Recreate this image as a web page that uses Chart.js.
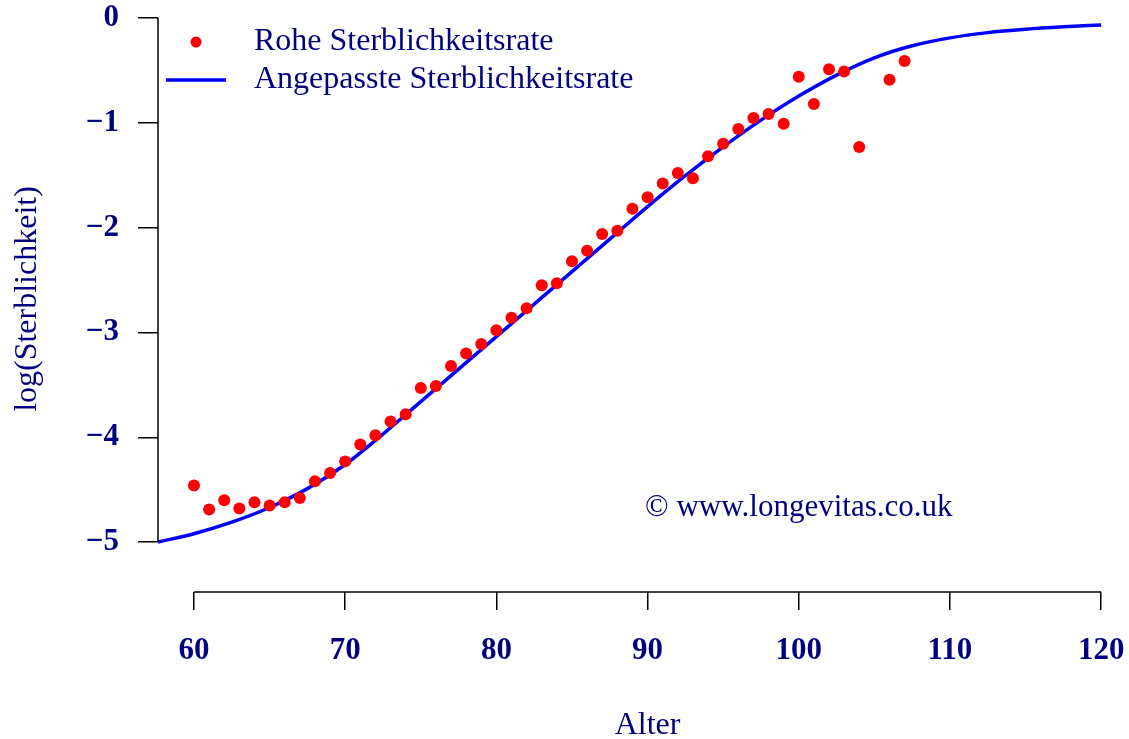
<!DOCTYPE html>
<html lang="de">
<head>
    <meta charset="UTF-8">
    <title>Sterblichkeit</title>
    <style>
        html, body {
            margin: 0;
            padding: 0;
            background: white;
            overflow: hidden;
        }
        .wrap {
            width: 1143px;
            height: 739px;
        }
    </style>
    <script src="https://cdn.jsdelivr.net/npm/chart.js"></script>
</head>
<body>
    <div class="wrap">
        <canvas id="chart" width="1143" height="739"></canvas>
    </div>

    <script>
        // raw (observed) log mortality by age
        const rawAges = [60, 61, 62, 63, 64, 65, 66, 67, 68, 69,
                         70, 71, 72, 73, 74, 75, 76, 77, 78, 79,
                         80, 81, 82, 83, 84, 85, 86, 87, 88, 89,
                         90, 91, 92, 93, 94, 95, 96, 97, 98, 99,
                         100, 101, 102, 103, 104, 106, 107];
        const rawRates = [-4.46, -4.69, -4.60, -4.68, -4.62, -4.65, -4.62, -4.58, -4.42, -4.34,
                          -4.23, -4.07, -3.98, -3.85, -3.78, -3.53, -3.51, -3.32, -3.20, -3.11,
                          -2.98, -2.86, -2.77, -2.55, -2.53, -2.32, -2.22, -2.06, -2.03, -1.82,
                          -1.71, -1.58, -1.48, -1.53, -1.32, -1.20, -1.06, -0.955, -0.917, -1.01,
                          -0.56, -0.82, -0.49, -0.51, -1.23, -0.59, -0.41];

        // fitted curve
        const fitAges = [57.62, 60, 62.5, 65, 67.5, 70, 72.5, 75, 77.5, 80,
                         82.5, 85, 87.5, 90, 92.5, 95, 97.5, 100, 102.5, 105,
                         107.5, 110, 112.5, 115, 117.5, 120];
        const fitRates = [-5.00, -4.92, -4.81, -4.67, -4.49, -4.26, -3.97, -3.66, -3.35, -3.04,
                          -2.73, -2.42, -2.11, -1.80, -1.505, -1.23, -0.975, -0.745, -0.545, -0.38,
                          -0.265, -0.19, -0.14, -0.108, -0.085, -0.067];

        const xTicks = [60, 70, 80, 90, 100, 110, 120];
        const yTicks = [0, -1, -2, -3, -4, -5];

        const seriesNames = ['Rohe Sterblichkeitsrate', 'Angepasste Sterblichkeitsrate'];
        const xTitle = 'Alter';
        const yTitle = 'log(Sterblichkeit)';
        const credit = '\u00A9 www.longevitas.co.uk';

        const navy = '#000080';
        const serif = '"Liberation Serif", "Times New Roman", serif';

        // R style axes: line only from first to last tick
        const axisLines = {
            id: 'axisLines',
            afterDraw(chart) {
                const ctx = chart.ctx;
                const x = chart.scales.x, y = chart.scales.y;
                const area = chart.chartArea;
                ctx.save();
                ctx.strokeStyle = 'black';
                ctx.lineWidth = 1.5;
                ctx.beginPath();
                ctx.moveTo(area.left, y.getPixelForValue(yTicks[0]));
                ctx.lineTo(area.left, y.getPixelForValue(yTicks[yTicks.length - 1]));
                ctx.moveTo(x.getPixelForValue(xTicks[0]), area.bottom);
                ctx.lineTo(x.getPixelForValue(xTicks[xTicks.length - 1]), area.bottom);
                ctx.stroke();

                // copyright note
                ctx.fillStyle = navy;
                ctx.font = '31px ' + serif;
                ctx.textAlign = 'center';
                ctx.textBaseline = 'middle';
                ctx.fillText(credit, x.getPixelForValue(100), y.getPixelForValue(-4.67));
                ctx.restore();
            }
        };

        // legend in the top left corner of the plot
        const cornerLegend = {
            id: 'cornerLegend',
            afterDraw(chart) {
                const ctx = chart.ctx;
                const area = chart.chartArea;
                const sets = chart.data.datasets;
                ctx.save();
                ctx.font = '32px ' + serif;
                ctx.textBaseline = 'middle';
                ctx.textAlign = 'left';
                sets.forEach((ds, i) => {
                    const cy = area.top + 36 + i * 38;
                    if (ds.type === 'scatter') {
                        ctx.fillStyle = ds.backgroundColor;
                        ctx.beginPath();
                        ctx.arc(area.left + 38, cy, 5.5, 0, Math.PI * 2);
                        ctx.fill();
                    } else {
                        ctx.strokeStyle = ds.borderColor;
                        ctx.lineWidth = ds.borderWidth;
                        ctx.beginPath();
                        ctx.moveTo(area.left + 8, cy);
                        ctx.lineTo(area.left + 68, cy);
                        ctx.stroke();
                    }
                    ctx.fillStyle = navy;
                    ctx.fillText(ds.label, area.left + 96, cy);
                });
                ctx.restore();
            }
        };

        const noPad = s => {
            s.paddingTop = 0;
            s.paddingBottom = 0;
            s.paddingLeft = 0;
            s.paddingRight = 0;
        };

        const ctx = document.getElementById('chart').getContext('2d');
        new Chart(ctx, {
            data: {
                datasets: [
                    {
                        type: 'scatter',
                        label: seriesNames[0],
                        data: rawAges.map((a, i) => ({ x: a, y: rawRates[i] })),
                        backgroundColor: '#ff0000',
                        borderWidth: 0,
                        pointRadius: 6,
                        order: 1
                    },
                    {
                        type: 'line',
                        label: seriesNames[1],
                        data: fitAges.map((a, i) => ({ x: a, y: fitRates[i] })),
                        borderColor: '#0000ff',
                        borderWidth: 3.5,
                        pointRadius: 0,
                        cubicInterpolationMode: 'monotone',
                        fill: false,
                        order: 2
                    }
                ]
            },
            plugins: [axisLines, cornerLegend],
            options: {
                responsive: false,
                animation: false,
                events: [],
                layout: { padding: { top: 0, right: 3, left: 0, bottom: 0 } },
                plugins: {
                    legend: { display: false },
                    tooltip: { enabled: false }
                },
                scales: {
                    x: {
                        type: 'linear',
                        min: 57.62,
                        max: 122.37,
                        afterBuildTicks: s => { s.ticks = xTicks.map(v => ({ value: v })); },
                        afterFit: s => { s.height = 147; noPad(s); },
                        border: { display: false },
                        grid: { drawOnChartArea: false, drawTicks: true, tickLength: 18, color: 'black', lineWidth: 1.5 },
                        ticks: {
                            autoSkip: false,
                            maxRotation: 0,
                            padding: 22,
                            color: navy,
                            font: { family: serif, size: 31, weight: 'bold' },
                            callback: v => String(v)
                        },
                        title: {
                            display: true,
                            text: xTitle,
                            color: navy,
                            font: { family: serif, size: 32, lineHeight: 0.8 },
                            padding: { top: 1, bottom: 1 }
                        }
                    },
                    y: {
                        type: 'linear',
                        min: -5.476,
                        max: 0.114,
                        afterBuildTicks: s => { s.ticks = yTicks.map(v => ({ value: v })); },
                        afterFit: s => { s.width = 158; noPad(s); },
                        border: { display: false },
                        grid: { drawOnChartArea: false, drawTicks: true, tickLength: 20, color: 'black', lineWidth: 1.5 },
                        ticks: {
                            padding: 19,
                            color: navy,
                            font: { family: serif, size: 31, weight: 'bold' },
                            callback: v => (v < 0 ? '\u2212' + Math.abs(v) : String(v))
                        },
                        title: {
                            display: true,
                            text: yTitle,
                            color: navy,
                            font: { family: serif, size: 32, lineHeight: 1 },
                            padding: { top: 12, bottom: 12 }
                        }
                    }
                }
            }
        });
    </script>
</body>
</html>
